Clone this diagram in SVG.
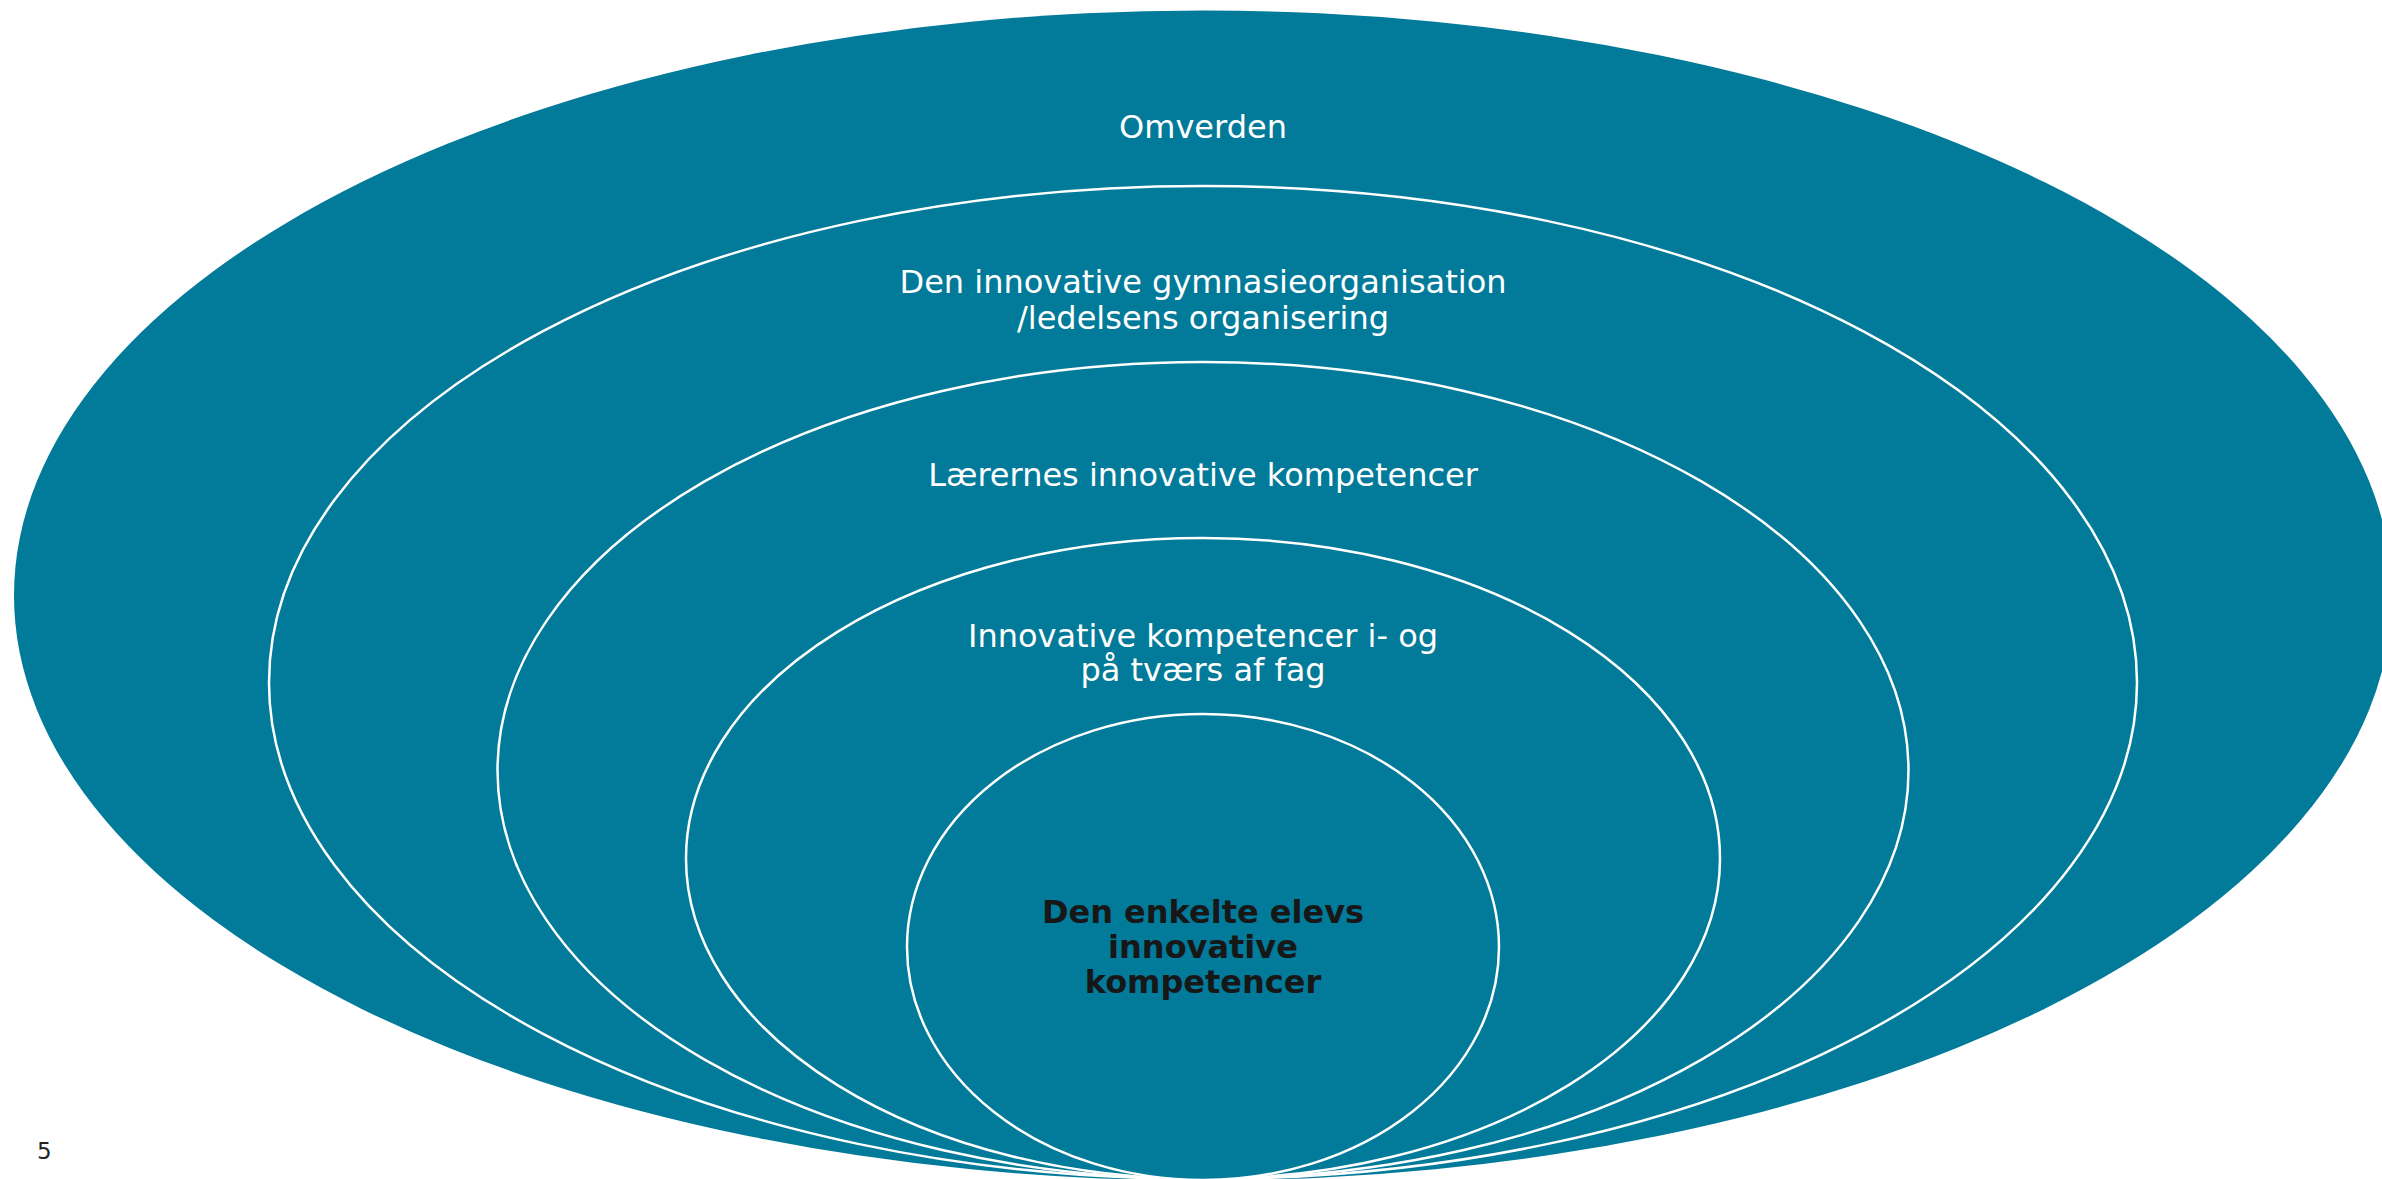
<svg xmlns="http://www.w3.org/2000/svg" width="2382" height="1179" viewBox="0 0 2382 1179">
<style>
.ring{fill:#027a99;stroke:#ffffff;stroke-width:2.5}
.lbl{font-family:"DejaVu Sans",Verdana,sans-serif;font-size:32px;fill:#ffffff;text-anchor:middle}
.core{font-family:"DejaVu Sans",Verdana,sans-serif;font-size:32px;font-weight:bold;fill:#171717;text-anchor:middle}
.pg{font-family:"DejaVu Sans",Verdana,sans-serif;font-size:23px;fill:#222222}
</style>
<rect x="0" y="0" width="2382" height="1179" fill="#ffffff"/>
<g id="omverden">
<ellipse cx="1203" cy="595.5" rx="1189" ry="585" fill="#027a99"/>
<text class="lbl" x="1203" y="138">Omverden</text>
</g>
<g id="organisation">
<ellipse class="ring" cx="1203" cy="682.5" rx="934" ry="496.5"/>
<text class="lbl" x="1203" y="293">Den innovative gymnasieorganisation</text>
<text class="lbl" x="1203" y="329">/ledelsens organisering</text>
</g>
<g id="laerere">
<ellipse class="ring" cx="1203" cy="770.5" rx="705.5" ry="408.5"/>
<text class="lbl" x="1203" y="486">Lærernes innovative kompetencer</text>
</g>
<g id="fag">
<ellipse class="ring" cx="1203" cy="858.5" rx="517" ry="320.5"/>
<text class="lbl" x="1203" y="647">Innovative kompetencer i- og</text>
<text class="lbl" x="1203" y="681">på tværs af fag</text>
</g>
<g id="elev">
<ellipse class="ring" cx="1203" cy="947" rx="296" ry="233"/>
<text class="core" x="1203" y="923">Den enkelte elevs</text>
<text class="core" x="1203" y="958">innovative</text>
<text class="core" x="1203" y="993">kompetencer</text>
</g>
<g id="connectors"></g>
<text class="pg" x="37" y="1159">5</text>
</svg>
